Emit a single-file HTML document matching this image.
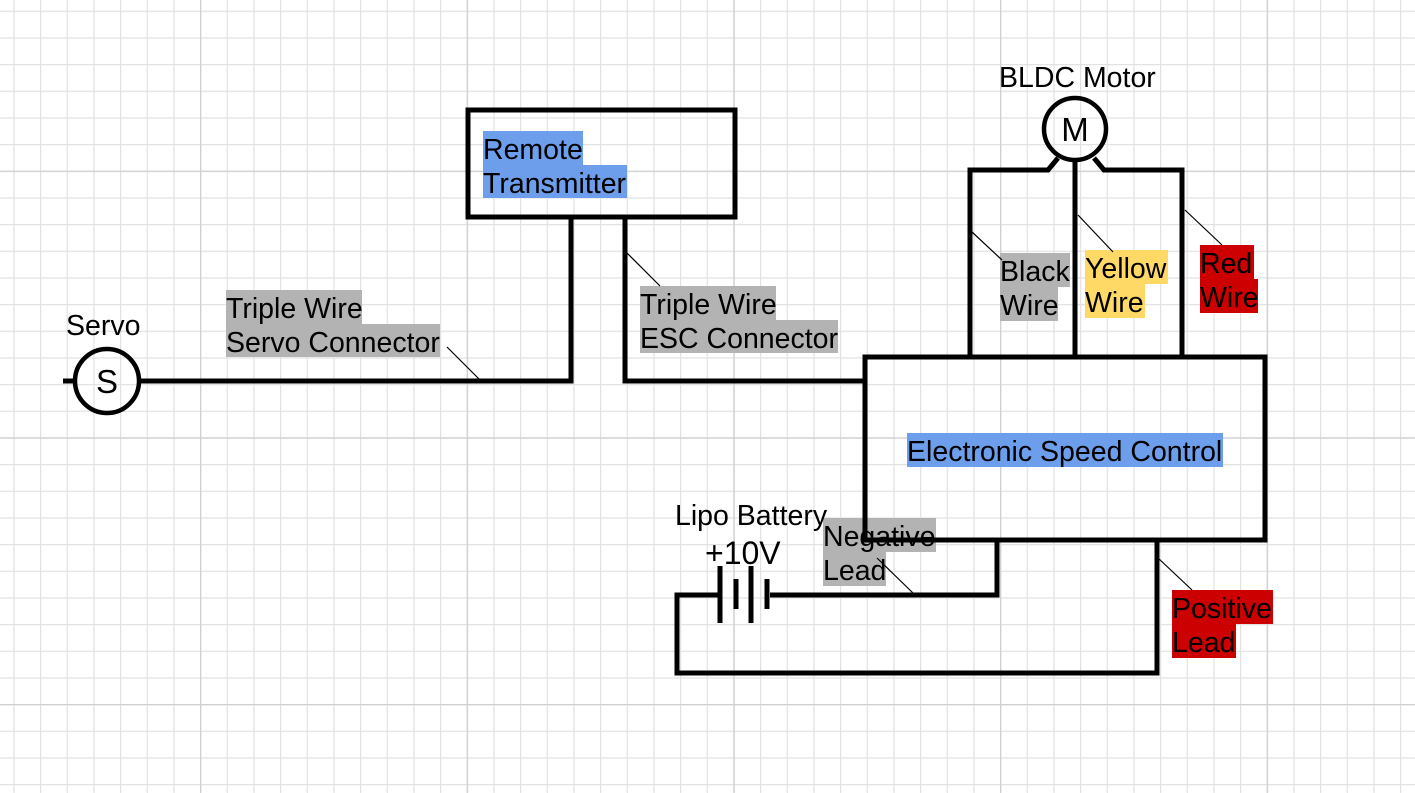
<!DOCTYPE html>
<html><head><meta charset="utf-8"><style>
html,body{margin:0;padding:0;background:#fff;}
svg{display:block;}
text{font-family:"Liberation Sans",Arial,sans-serif;}
</style></head><body>
<svg width="1415" height="793" viewBox="0 0 1415 793" xmlns="http://www.w3.org/2000/svg">
<defs>
<pattern id="minor" x="13.33" y="10.67" width="26.667" height="26.667" patternUnits="userSpaceOnUse">
<path d="M0.5 0V26.667M0 0.5H26.667" stroke="#e2e2e2" stroke-width="1.5" fill="none"/>
</pattern>
<pattern id="major" x="200" y="170.67" width="266.67" height="266.67" patternUnits="userSpaceOnUse">
<path d="M0.5 0V266.67M0 0.5H266.67" stroke="#d0d0d0" stroke-width="1.6" fill="none"/>
</pattern>
</defs>
<rect width="1415" height="793" fill="url(#minor)"/>
<rect width="1415" height="793" fill="url(#major)"/>

<g>
<rect x="226" y="290" width="136" height="34" fill="#b3b3b3"/>
<rect x="226" y="324" width="214" height="33" fill="#b3b3b3"/>
<rect x="483" y="131" width="100" height="34" fill="#6d9eeb"/>
<rect x="483" y="165" width="144" height="33" fill="#6d9eeb"/>
<rect x="640" y="286" width="136" height="34" fill="#b3b3b3"/>
<rect x="640" y="320" width="198" height="33" fill="#b3b3b3"/>
<rect x="1000" y="253" width="70" height="34" fill="#b3b3b3"/>
<rect x="1000" y="287" width="58" height="34" fill="#b3b3b3"/>
<rect x="1085" y="250" width="83" height="34" fill="#ffd966"/>
<rect x="1085" y="284" width="60" height="34" fill="#ffd966"/>
<rect x="1200" y="245" width="54" height="34" fill="#cc0000"/>
<rect x="1200" y="279" width="58" height="34" fill="#cc0000"/>
<rect x="907" y="433" width="316" height="34" fill="#6d9eeb"/>
<rect x="823" y="518" width="113" height="34" fill="#b3b3b3"/>
<rect x="823" y="552" width="63" height="34" fill="#b3b3b3"/>
<rect x="1172" y="590" width="101" height="34" fill="#cc0000"/>
<rect x="1172" y="624" width="64" height="34" fill="#cc0000"/>
</g>

<g stroke="#000" stroke-width="5" fill="none" stroke-linejoin="miter">
<rect x="468" y="110" width="267" height="107"/>
<rect x="865" y="357" width="400" height="183"/>
<polyline points="140,381 571,381 571,217"/>
<polyline points="625,217 625,381 865,381"/>
<line x1="63" y1="381" x2="74" y2="381"/>
<circle cx="107" cy="381" r="32" stroke-width="4.5"/>
<circle cx="1075" cy="129" r="31" stroke-width="4.5"/>
<polyline points="970,357 970,170 1048,170 1058,158"/>
<line x1="1075" y1="160" x2="1075" y2="357"/>
<polyline points="1182,357 1182,170 1104,170 1094,158"/>
<polyline points="720,595 677,595 677,673 1157,673 1157,540"/>
<polyline points="770,595 997,595 997,540"/>
</g>
<g stroke="#000" stroke-width="5">
<line x1="720" y1="566" x2="720" y2="623"/>
<line x1="736" y1="579" x2="736" y2="609"/>
<line x1="751" y1="566" x2="751" y2="623"/>
<line x1="767" y1="579" x2="767" y2="609"/>
</g>
<g stroke="#000" stroke-width="1.2">
<line x1="447" y1="347" x2="480" y2="380"/>
<line x1="627" y1="253" x2="660" y2="286"/>
<line x1="972" y1="232" x2="1002" y2="260"/>
<line x1="1078" y1="215" x2="1113" y2="252"/>
<line x1="1185" y1="210" x2="1222" y2="245"/>
<line x1="877" y1="558" x2="913" y2="593"/>
<line x1="1158" y1="558" x2="1192" y2="590"/>
</g>

<g font-size="28.5" fill="#000">
<text x="226" y="318">Triple Wire</text>
<text x="226" y="352">Servo Connector</text>
<text x="483" y="159">Remote</text>
<text x="483" y="193">Transmitter</text>
<text x="640" y="314">Triple Wire</text>
<text x="640" y="348">ESC Connector</text>
<text x="1000" y="281">Black</text>
<text x="1000" y="315">Wire</text>
<text x="1085" y="278">Yellow</text>
<text x="1085" y="312">Wire</text>
<text x="1200" y="273">Red</text>
<text x="1200" y="307">Wire</text>
<text x="907" y="461">Electronic Speed Control</text>
<text x="823" y="546">Negative</text>
<text x="823" y="580">Lead</text>
<text x="1172" y="618">Positive</text>
<text x="1172" y="652">Lead</text>
<text x="675" y="525">Lipo Battery</text>
<text x="66" y="335">Servo</text>
<text x="999" y="87">BLDC Motor</text>
<text x="705" y="564" font-size="32">+10V</text>
<text x="107" y="393" font-size="33" text-anchor="middle">S</text>
<text x="1075" y="141" font-size="33" text-anchor="middle">M</text>
</g>
</svg>
</body></html>
